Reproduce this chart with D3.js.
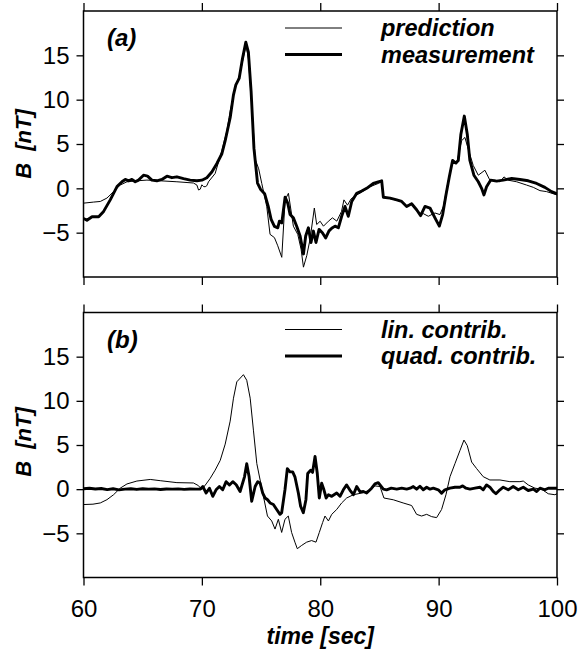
<!DOCTYPE html>
<html>
<head>
<meta charset="utf-8">
<script src="https://cdn.jsdelivr.net/npm/d3@7"></script>
<style>
  html, body { margin: 0; padding: 0; background: #fff; }
  svg { display: block; }
</style>
</head>
<body>
<svg id="chart" width="581" height="649"></svg>
<script>
// ---------------- DATA ----------------
const xTicks = [60, 70, 80, 90, 100];
const yTicks = [-5, 0, 5, 10, 15];
const panelLabels = ["(a)", "(b)"];
const seriesNamesA = ["prediction", "measurement"];
const seriesNamesB = ["lin. contrib.", "quad. contrib."];
const xLabel = "time [sec]";
const yLabel = "B  [nT]";

// panel (a): measurement (thick)
const tMeas = [60.0,60.29,60.72,61.28,61.7,62.26,62.83,63.25,63.53,63.81,64.09,64.37,64.65,65.07,65.41,65.78,66.2,66.62,67.05,67.47,67.89,68.45,69.01,69.58,70.0,70.42,70.84,71.27,71.69,71.97,72.39,72.67,72.87,73.15,73.43,73.71,73.93,74.16,74.4,74.7,74.95,75.3,75.6,75.85,76.13,76.41,76.55,76.75,77.03,77.26,77.45,77.73,78.01,78.3,78.58,78.77,79.0,79.22,79.42,79.64,79.9,80.18,80.46,80.74,80.97,81.25,81.53,81.81,82.09,82.37,82.66,83.08,83.5,83.92,84.48,84.9,85.19,85.33,85.9,86.46,86.88,87.3,87.72,88.14,88.48,88.85,89.27,89.69,90.06,90.34,90.62,90.9,91.18,91.46,91.66,91.88,92.17,92.42,92.64,92.98,93.35,93.63,93.83,94.05,94.39,94.9,95.46,96.17,96.87,97.57,98.28,98.98,99.54,100];
const vMeas = [-3.4,-3.6,-3.2,-3.2,-2.6,-1.3,0.2,0.74,1.0,0.85,1.0,0.74,0.93,1.48,1.37,0.93,0.85,1.0,1.37,1.2,1.3,1.1,0.93,0.85,0.92,1.2,1.85,2.8,3.9,5.37,7.96,10.55,11.66,12.4,14.63,16.48,15.37,10.9,4.5,0.6,-0.1,-0.6,-2.0,-3.5,-4.3,-4.45,-3.7,-3.9,-1.0,-1.7,-2.96,-3.33,-4.27,-5.37,-7.4,-5.37,-4.45,-6.11,-4.82,-6.11,-4.63,-5.0,-5.6,-4.8,-4.5,-4.26,-4.45,-3.15,-2.04,-3.15,-1.48,-0.56,-0.3,0.0,0.55,0.74,0.85,-1.0,-1.11,-1.3,-1.48,-2.04,-1.74,-2.41,-3.08,-2.04,-2.22,-3.33,-4.26,-2.96,-0.74,1.29,3.14,2.85,3.14,6.11,8.15,6.11,3.14,1.48,0.74,0.0,-0.74,0.18,0.92,0.81,0.92,1.11,1.0,0.85,0.55,0.11,-0.37,-0.63];

// panel (a): prediction (thin)
const tPred = [60.0,60.86,61.42,61.98,62.54,63.1,63.67,64.51,65.36,66.48,67.89,69.29,69.58,69.72,69.86,70.0,70.14,70.28,70.42,70.56,71.12,71.69,72.11,72.39,72.81,73.23,73.6,73.74,73.93,74.27,74.5,74.8,75.06,75.48,75.76,76.13,76.41,76.75,77.03,77.31,77.73,78.1,78.38,78.58,78.86,79.14,79.5,79.7,79.99,80.27,80.69,81.03,81.4,81.8,82.0,82.3,82.6,83.0,83.36,84.2,84.9,85.19,85.33,86.0,86.5,87.0,87.3,87.72,88.42,88.7,89.13,89.69,90.11,90.4,90.82,91.18,91.52,91.94,92.22,92.5,92.92,93.35,93.91,94.33,94.76,95.18,95.52,95.88,96.59,97.43,98.0,98.56,99.12,100];
const vPred = [-1.67,-1.55,-1.48,-1.1,-0.37,0.37,0.74,0.85,0.93,0.85,0.74,0.6,0.37,-0.19,-0.1,0.4,0.2,0.18,0.3,0.74,1.67,4.26,6.48,8.7,11.3,12.97,15.37,16.1,14.6,8.33,3.3,2.2,0.55,-2.04,-5.19,-5.56,-6.48,-7.78,-1.3,-0.56,-4.27,-5.19,-6.85,-8.89,-7.59,-5.74,-2.22,-4.08,-3.71,-4.27,-3.71,-3.33,-3.7,-2.6,-1.3,-1.9,-1.2,-0.8,-0.55,0.18,0.55,0.74,-0.93,-1.2,-1.35,-1.6,-1.96,-1.67,-2.96,-2.85,-3.15,-2.78,-2.96,-2.04,0.92,2.96,2.78,5.37,5.74,4.44,2.59,1.48,2.04,0.92,0.92,0.74,1.29,0.92,0.74,0.37,0.11,-0.26,-0.37,-0.74];

// panel (b): linear contribution (thin)
const tLin = [60.0,60.8,61.42,61.98,62.54,63.1,63.67,64.51,65.64,66.48,67.89,69.29,69.71,69.99,70.36,70.7,71.12,71.55,71.97,72.39,72.67,72.95,73.51,73.79,74.08,74.36,74.64,74.92,75.2,75.54,75.9,76.18,76.46,76.74,77.02,77.3,77.58,77.86,78.06,78.43,78.85,79.27,79.64,79.92,80.2,80.4,80.69,80.97,81.39,81.81,82.23,82.8,83.5,84.2,84.62,85.05,85.38,86.17,87.0,87.72,88.14,88.56,88.99,89.41,89.83,90.25,90.62,90.96,91.38,91.8,92.14,92.42,92.79,93.21,93.77,94.33,95.18,96.02,96.87,97.15,97.57,98.14,98.7,99.26,99.82,100];
const vLin = [-1.74,-1.7,-1.56,-1.19,-0.63,0.11,0.59,0.92,1.1,0.96,0.74,0.7,0.4,-0.05,0.59,1.22,2.15,3.26,5.1,7.7,10.3,12.15,12.96,12.33,10.3,6.6,2.9,1.04,-0.81,-3.04,-3.6,-4.52,-3.41,-4.9,-3.41,-3.04,-4.9,-6.0,-6.74,-6.37,-6.0,-5.82,-6.0,-4.9,-3.78,-3.04,-3.6,-2.85,-2.3,-1.56,-1.0,-0.63,-0.44,-0.1,0.37,0.3,-1.0,-1.2,-1.56,-1.85,-2.85,-3.04,-2.85,-3.11,-3.22,-2.3,-0.63,1.41,2.89,4.37,5.56,4.93,3.07,2.33,1.41,1.04,1.04,0.85,0.85,0.92,0.48,0.11,0.0,-0.52,-0.63,-0.52];

// panel (b): quadratic contribution (thick)
const tQuad = [60,60.5,61,61.5,62,62.5,63,63.5,64,64.5,65,65.5,66,66.5,67,67.5,68,68.5,69,69.5,69.85,70.08,70.36,70.64,70.92,71.2,71.48,71.76,72.05,72.33,72.61,72.9,73.23,73.6,73.79,73.99,74.21,74.5,74.72,74.92,75.14,75.34,75.55,75.76,76.04,76.32,76.6,76.74,77.02,77.22,77.44,77.67,77.86,78.15,78.34,78.57,78.79,78.94,79.19,79.35,79.56,79.75,79.92,80.12,80.31,80.5,80.69,80.97,81.39,81.67,81.95,82.23,82.5,82.8,83.08,83.36,83.64,83.92,84.34,84.62,84.9,85.05,85.33,85.6,86.0,86.46,86.88,87.3,87.6,87.86,88.14,88.42,88.7,88.99,89.27,89.55,89.97,90.25,90.53,90.96,91.38,91.8,92.03,92.31,92.65,93.07,93.49,93.77,94.05,94.33,94.61,94.84,95.18,95.46,95.88,96.3,96.73,97.15,97.57,98.0,98.28,98.56,98.98,99.26,99.68,100];
const vQuad = [0.05,0.1,0.02,0.08,-0.05,0.05,-0.08,0.0,0.05,-0.03,0.04,0.0,0.03,-0.03,0.02,0.0,0.03,-0.02,0.02,0.0,0.0,0.3,-0.44,0.11,-0.81,-0.07,0.3,-0.07,0.85,0.48,0.85,0.5,-0.26,1.4,2.88,1.4,-1.37,0.3,0.85,0.67,-0.44,-1.0,-1.2,-1.56,-1.74,-2.3,-2.85,-2.67,-0.07,2.33,1.96,1.96,1.4,-0.44,-1.93,-2.67,-1.19,1.77,2.15,1.9,3.7,1.77,-1.0,0.67,-0.07,-1.0,-0.63,-0.81,-0.44,-0.81,-0.07,0.48,-0.1,-0.63,0.3,-0.3,-0.26,-0.44,0.11,0.59,0.74,0.48,0.0,-0.08,0.11,0.0,0.11,0.0,0.11,0.3,0.0,0.33,-0.07,0.22,0.0,0.11,-0.07,-0.45,-0.07,0.11,0.22,0.22,0.37,0.11,0.0,0.11,0.22,-0.07,0.48,0.22,-0.26,-0.52,-0.07,0.22,-0.07,0.3,-0.07,0.22,-0.15,0.0,-0.26,0.11,-0.07,0.11,0.11,0.11];

// ---------------- LAYOUT ----------------
const svg = d3.select("#chart");
const left = 83.5, right = 557;
const panels = [
  { top: 11, bottom: 277, label: panelLabels[0], names: seriesNamesA,
    thin: [tPred, vPred], thick: [tMeas, vMeas], bottomLabels: false, ylabY: 144 },
  { top: 312.5, bottom: 577.5, label: panelLabels[1], names: seriesNamesB,
    thin: [tLin, vLin], thick: [tQuad, vQuad], bottomLabels: true, ylabY: 442 }
];

const x = d3.scaleLinear().domain([60, 100]).range([left, right]);
const fmt = d => d < 0 ? "\u2212" + Math.abs(d) : String(d);
const font = "'Liberation Sans', Arial, sans-serif";
const boldItalic = sel => sel.style("font-family", font)
  .style("font-weight", "bold").style("font-style", "italic");

panels.forEach((p, i) => {
  const y = d3.scaleLinear().domain([-10, 20]).range([p.bottom, p.top]);
  const g = svg.append("g");

  const clipId = "clip" + i;
  svg.append("defs").append("clipPath").attr("id", clipId)
    .append("rect").attr("x", left).attr("y", p.top)
    .attr("width", right - left).attr("height", p.bottom - p.top);

  // axes
  const axTop = g.append("g").attr("transform", `translate(0,${p.top})`)
    .call(d3.axisTop(x).tickValues(xTicks).tickSize(8).tickFormat(""));
  const axBot = g.append("g").attr("transform", `translate(0,${p.bottom})`)
    .call(d3.axisBottom(x).tickValues(xTicks).tickSize(8).tickPadding(14)
      .tickFormat(p.bottomLabels ? d => d : ""));
  const axL = g.append("g").attr("transform", `translate(${left},0)`)
    .call(d3.axisLeft(y).tickValues(yTicks).tickSize(7).tickPadding(7).tickFormat(fmt));
  const axR = g.append("g").attr("transform", `translate(${right},0)`)
    .call(d3.axisRight(y).tickValues(yTicks).tickSize(7).tickFormat(""));
  [axTop, axBot, axL, axR].forEach(a => {
    a.select(".domain").remove();
    a.selectAll("line").attr("stroke", "#000").attr("stroke-width", 1.3);
    a.selectAll("text").attr("fill", "#000")
      .style("font-family", font).style("font-size", "24px");
  });

  // frame
  g.append("rect").attr("x", left).attr("y", p.top)
    .attr("width", right - left).attr("height", p.bottom - p.top)
    .attr("fill", "none").attr("stroke", "#000").attr("stroke-width", 1.5);

  const line = d3.line().x(d => x(d[0])).y(d => y(d[1]));
  const toPts = ([ts, vs]) => ts.map((t, k) => [t, vs[k]]);

  g.append("path").datum(toPts(p.thin)).attr("d", line)
    .attr("clip-path", `url(#${clipId})`)
    .attr("fill", "none").attr("stroke", "#000").attr("stroke-width", 1)
    .attr("stroke-linejoin", "round");
  g.append("path").datum(toPts(p.thick)).attr("d", line)
    .attr("clip-path", `url(#${clipId})`)
    .attr("fill", "none").attr("stroke", "#000").attr("stroke-width", 2.9)
    .attr("stroke-linejoin", "round");

  // panel label
  g.append("text").attr("x", 107).attr("y", p.top + 35)
    .call(boldItalic).style("font-size", "24px")
    .text(p.label);

  // legend
  const ly = [p.top + 17, p.top + 43.5];
  g.append("line").attr("x1", 285).attr("x2", 342).attr("y1", ly[0]).attr("y2", ly[0])
    .attr("stroke", "#000").attr("stroke-width", 1);
  g.append("line").attr("x1", 285).attr("x2", 342).attr("y1", ly[1]).attr("y2", ly[1])
    .attr("stroke", "#000").attr("stroke-width", 2.9);
  p.names.forEach((n, k) => {
    g.append("text").attr("x", 381).attr("y", ly[k] + 8)
      .call(boldItalic).style("font-size", "23.5px")
      .text(n);
  });

  // y label
  g.append("text").attr("transform", `translate(31,${p.ylabY}) rotate(-90)`)
    .attr("text-anchor", "middle")
    .call(boldItalic).style("font-size", "22px")
    .style("white-space", "pre")
    .text(yLabel);
});

// x label
svg.append("text").attr("x", (left + right) / 2).attr("y", 644)
  .attr("text-anchor", "middle")
  .call(boldItalic).style("font-size", "23px")
  .text(xLabel);
</script>
</body>
</html>
